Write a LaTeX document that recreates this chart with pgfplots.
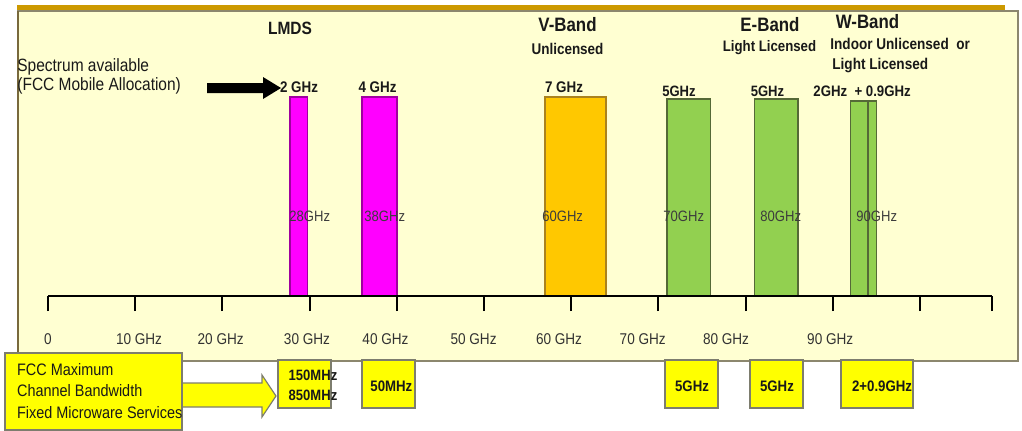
\documentclass[border=0pt]{standalone}
\usepackage{pgfplots}
\pgfplotsset{compat=1.18}
\usepackage{fontspec}
\setmainfont{Liberation Sans}[FakeStretch=0.87]

\definecolor{panel}{RGB}{255,255,210}
\definecolor{panelrule}{RGB}{140,135,110}
\definecolor{panelleft}{RGB}{120,105,60}
\definecolor{goldbar}{RGB}{204,153,0}
\definecolor{lmds}{RGB}{255,0,255}
\definecolor{lmdsedge}{RGB}{160,0,160}
\definecolor{vband}{RGB}{255,200,0}
\definecolor{vbandedge}{RGB}{170,130,30}
\definecolor{eband}{RGB}{146,208,80}
\definecolor{ebandedge}{RGB}{85,105,55}
\definecolor{fccbox}{RGB}{255,255,0}
\definecolor{fccedge}{RGB}{125,125,110}
\definecolor{tickgray}{RGB}{50,50,50}
\definecolor{bargray}{RGB}{60,60,60}

\newcommand{\sz}[1]{\fontsize{#1}{#1}\selectfont}

% pixel-style layout frame: 1 unit = 0.5pt, origin at top left
\tikzset{px/.style={x=0.5pt,y=-0.5pt,yshift=210.5pt}}

\begin{document}
\begin{tikzpicture}
\begin{scope}[px]
  \useasboundingbox (0,0) rectangle (1022,421);
  \filldraw[fill=panel, draw=panelrule, line width=1pt] (18,11) rectangle (1018,361);
  \draw[panelleft, line width=1.3pt] (18,11) -- (18,361);
  \draw[goldbar, line width=2.6pt] (17,7.5) -- (1005,7.5);
\end{scope}

\begin{axis}[
  at={(24pt,62.5pt)}, anchor=south west,
  scale only axis, width=472.2pt, height=99.5pt,
  xmin=0, xmax=108.3, ymin=0, ymax=1,
  axis x line*=bottom, axis y line=none,
  x axis line style={line width=1.3pt, black},
  xtick={0,10,20,30,40,50,60,70,80,90,100,108.3},
  xticklabels={},
  tick align=outside, major tick length=7.5pt,
  xtick style={line width=1pt, black},
  clip=false, axis on top,
]
  % LMDS bands (28 GHz: 2 GHz, 38 GHz: 4 GHz)
  \addplot[fill=lmds, draw=lmdsedge, line width=0.7pt]
    coordinates {(27.75,0) (27.75,1) (29.75,1) (29.75,0)} -- cycle;
  \addplot[fill=lmds, draw=lmdsedge, line width=0.7pt]
    coordinates {(36,0) (36,1) (40,1) (40,0)} -- cycle;
  % V-band, 60 GHz: 7 GHz
  \addplot[fill=vband, draw=vbandedge, line width=0.7pt]
    coordinates {(57,0) (57,1) (64,1) (64,0)} -- cycle;
  % E-band, 70 and 80 GHz: 5 GHz each
  \addplot[fill=eband, draw=ebandedge, line width=0.7pt]
    coordinates {(71,0) (71,0.99) (76,0.99) (76,0)} -- cycle;
  \addplot[fill=eband, draw=ebandedge, line width=0.7pt]
    coordinates {(81,0) (81,0.99) (86,0.99) (86,0)} -- cycle;
  % W-band, 90 GHz: 2 GHz + 0.9 GHz
  \addplot[fill=eband, draw=ebandedge, line width=0.7pt]
    coordinates {(92,0) (92,0.98) (94,0.98) (94,0)} -- cycle;
  \addplot[fill=eband, draw=ebandedge, line width=0.7pt]
    coordinates {(94.1,0) (94.1,0.98) (95,0.98) (95,0)} -- cycle;

  % band centre labels
  \begin{scope}[every node/.style={anchor=base west, inner sep=0pt, text=bargray, font=\sz{7.5}}]
    \node at (axis cs:27.64,0.373) {28GHz};
    \node at (axis cs:36.24,0.373) {38GHz};
    \node at (axis cs:56.65,0.373) {60GHz};
    \node at (axis cs:70.53,0.373) {70GHz};
    \node at (axis cs:81.65,0.373) {80GHz};
    \node at (axis cs:92.66,0.373) {90GHz};
  \end{scope}

  % frequency scale labels
  \begin{scope}[every node/.style={anchor=base, inner sep=0pt, text=tickgray, font=\sz{7.8}}]
    \node at (axis cs:0,-0.246) {0};
    \node at (axis cs:10.44,-0.246) {10 GHz};
    \node at (axis cs:19.8,-0.246) {20 GHz};
    \node at (axis cs:29.7,-0.246) {30 GHz};
    \node at (axis cs:38.7,-0.246) {40 GHz};
    \node at (axis cs:48.8,-0.246) {50 GHz};
    \node at (axis cs:58.6,-0.246) {60 GHz};
    \node at (axis cs:68.2,-0.246) {70 GHz};
    \node at (axis cs:77.75,-0.246) {80 GHz};
    \node at (axis cs:89.7,-0.246) {90 GHz};
  \end{scope}
\end{axis}

\begin{scope}[px, every node/.style={inner sep=0pt, text=black!90}]
  % band headings
  \node[anchor=base, font=\bfseries\sz{8.9}] at (290,34) {LMDS};
  \node[anchor=base, font=\bfseries\sz{9.7}] at (567.5,31.7) {V-Band};
  \node[anchor=base, font=\bfseries\sz{7.75}] at (567.5,54.3) {Unlicensed};
  \node[anchor=base, font=\bfseries\sz{9.7}] at (770,31.7) {E-Band};
  \node[anchor=base, font=\bfseries\sz{7.6}] at (769.5,51.7) {Light Licensed};
  \node[anchor=base, font=\bfseries\sz{9.7}] at (867.5,28.3) {W-Band};
  \node[anchor=base west, font=\bfseries\sz{7.8}] at (830,49.3) {Indoor Unlicensed\ \ or};
  \node[anchor=base west, font=\bfseries\sz{7.8}] at (832,69.3) {Light Licensed};

  % spectrum available per band
  \node[anchor=base, font=\bfseries\sz{7.7}] at (299,92.7) {2 GHz};
  \node[anchor=base, font=\bfseries\sz{7.7}] at (377.5,92) {4 GHz};
  \node[anchor=base, font=\bfseries\sz{7.7}] at (564,92.7) {7 GHz};
  \node[anchor=base, font=\bfseries\sz{7.5}] at (679,96.7) {5GHz};
  \node[anchor=base, font=\bfseries\sz{7.5}] at (767.5,96.7) {5GHz};
  \node[anchor=base west, font=\bfseries\sz{7.6}] at (813,96) {2GHz\ \ + 0.9GHz};

  % mobile allocation note and arrow
  \node[anchor=base west, font=\sz{8.9}] at (17,71.7) {Spectrum available};
  \node[anchor=base west, font=\sz{8.9}] at (17,90.7) {(FCC Mobile Allocation)};
  \fill[black] (207,83) -- (263,83) -- (263,77) -- (281,88) -- (263,99) -- (263,93) -- (207,93) -- cycle;

  % FCC channel bandwidth row
  \filldraw[fill=fccbox, draw=fccedge, line width=0.6pt]
    (182,383) -- (262,383) -- (262,375) -- (276,396) -- (262,417) -- (262,407) -- (182,407) -- cycle;
  \filldraw[fill=fccbox, draw=fccedge, line width=0.6pt] (5,353) rectangle (182,430);
  \node[anchor=base west, font=\sz{8.3}] at (16.7,375) {FCC Maximum};
  \node[anchor=base west, font=\sz{8.3}] at (16.7,396.7) {Channel Bandwidth};
  \node[anchor=base west, font=\sz{8.3}] at (16.7,418.3) {Fixed Microware Services};

  \filldraw[fill=fccbox, draw=fccedge, line width=0.6pt] (278,360) rectangle (331,408);
  \filldraw[fill=fccbox, draw=fccedge, line width=0.6pt] (362,360) rectangle (415,408);
  \filldraw[fill=fccbox, draw=fccedge, line width=0.6pt] (665,360) rectangle (718,408);
  \filldraw[fill=fccbox, draw=fccedge, line width=0.6pt] (750,360) rectangle (803,408);
  \filldraw[fill=fccbox, draw=fccedge, line width=0.6pt] (841,360) rectangle (913,408);
  \node[anchor=base west, font=\bfseries\sz{7.5}] at (288.3,380.3) {150MHz};
  \node[anchor=base west, font=\bfseries\sz{7.5}] at (288.3,400.7) {850MHz};
  \node[anchor=base west, font=\bfseries\sz{7.6}] at (370,391.7) {50MHz};
  \node[anchor=base, font=\bfseries\sz{7.6}] at (692,391.7) {5GHz};
  \node[anchor=base, font=\bfseries\sz{7.6}] at (777,391.7) {5GHz};
  \node[anchor=base west, font=\bfseries\sz{7.6}] at (851.7,391.7) {2+0.9GHz};
\end{scope}
\end{tikzpicture}
\end{document}
